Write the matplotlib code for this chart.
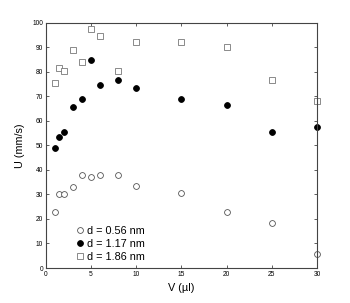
import matplotlib
matplotlib.use("Agg")
import matplotlib.pyplot as plt

plt.rcParams['font.family'] = ['Liberation Sans', 'DejaVu Sans']

# volumen (ul) y velocidad (mm/s)
V = [1, 1.5, 2, 3, 4, 5, 6, 8, 10, 15, 20, 25, 30]
U_056 = [23, 30.3, 30.3, 33.1, 37.8, 37.1, 38, 38, 33.3, 30.4, 23, 18.2, 5.6]
U_117 = [48.9, 53.5, 55.4, 65.6, 68.8, 84.9, 74.5, 76.6, 73.3, 68.8, 66.6, 55.4, 57.4]
U_186 = [75.5, 81.5, 80.4, 88.9, 84, 97.6, 94.7, 80.4, 92.3, 92.3, 90.2, 76.6, 68]
etiquetas = ["d = 0.56 nm", "d = 1.17 nm", "d = 1.86 nm"]

fig = plt.figure(figsize=(3.5, 3.03), dpi=100)
ax = fig.add_axes([0.1306, 0.1155, 0.775, 0.8095])

ax.plot(V, U_056, 'o', mfc='white', mec='#555555', mew=0.6, ms=4.2, label=etiquetas[0], clip_on=False)
ax.plot(V, U_117, 'o', mfc='black', mec='black', mew=0.6, ms=4.2, label=etiquetas[1], clip_on=False)
ax.plot(V, U_186, 's', mfc='white', mec='#777777', mew=0.6, ms=3.8, label=etiquetas[2], clip_on=False)

ax.set_xlim(0, 30)
ax.set_ylim(0, 100)
ax.set_xticks(range(0, 31, 5))
ax.set_yticks(range(0, 101, 10))
ax.tick_params(direction='in', length=2.5, width=0.6, labelsize=4.8, pad=2,
               top=True, right=True, colors='#444444', labelcolor='black')
for s in ax.spines.values():
    s.set_linewidth(0.8)
    s.set_color('#444444')

ax.set_xlabel("V (\u00b5l)", fontsize=7.8, labelpad=4)
ax.set_ylabel("U (mm/s)", fontsize=7.8, labelpad=5)

ax.legend(loc='lower left', bbox_to_anchor=(0.08, 0.0), frameon=False, fontsize=7.8,
          handletextpad=0.1, labelspacing=0.3, borderaxespad=0.15, handlelength=1.2)

fig.savefig("out.png", dpi=100)
